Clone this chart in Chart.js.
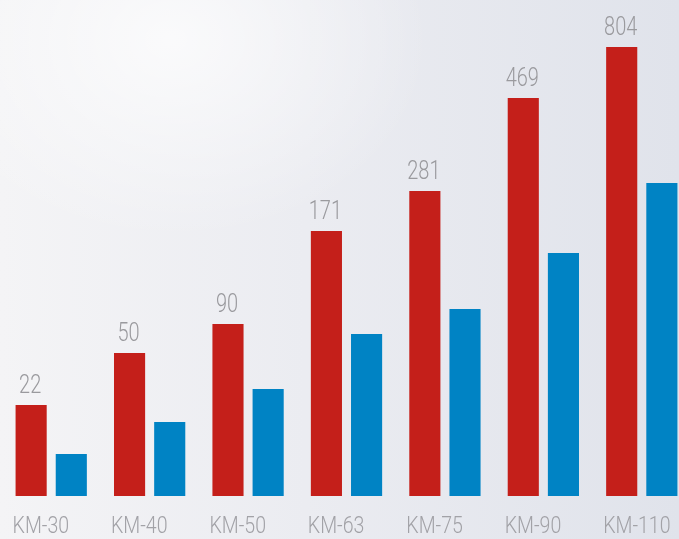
<!doctype html>
<html lang="en">
  <head>
    <meta charset="utf-8">
    <title>KM series</title>
    <style>
      * { margin: 0; padding: 0; }
      html, body { width: 679px; height: 539px; overflow: hidden; }
      body {
        background:
          radial-gradient(ellipse 260px 200px at 170px 40px, rgba(255,255,255,0.7), rgba(255,255,255,0) 100%),
          linear-gradient(to right, #f4f4f6 0%, #ebecf1 45%, #e0e3eb 100%);
      }
      .chartBox { width: 691px; height: 539px; }
    </style>
  </head>
  <body>
    <div class="chartBox">
      <canvas id="myChart"></canvas>
    </div>
    <script src="https://cdn.jsdelivr.net/npm/chart.js/dist/chart.umd.min.js"></script>
    <script>
    // setup
    const categories = ['KM-30', 'KM-40', 'KM-50', 'KM-63', 'KM-75', 'KM-90', 'KM-110'];
    const redValues = [22, 50, 90, 171, 281, 469, 804];      // printed on top of red bars
    const redHeights = [91, 143, 172, 265, 305, 398, 449];   // bar heights as drawn (not to scale with values)
    const blueHeights = [42, 74, 107, 162, 187, 243, 313];

    const data = {
      labels: categories,
      datasets: [{
        label: 'red',
        data: redHeights,
        backgroundColor: '#c41f1a'
      }, {
        label: 'blue',
        data: blueHeights,
        backgroundColor: '#0083c4'
      }]
    };

    // condensed light text: squeeze the normal font horizontally
    function narrowText(ctx, text, x, y, sx) {
      ctx.save();
      ctx.translate(x, y);
      ctx.scale(sx, 1);
      ctx.fillText(text, 0, 0);
      ctx.restore();
    }

    // value labels over the red bars + category labels under each pair
    const barLabels = {
      id: 'barLabels',
      afterDatasetsDraw(chart) {
        const { ctx, chartArea: { bottom } } = chart;
        const meta = chart.getDatasetMeta(0);
        ctx.save();
        ctx.textBaseline = 'alphabetic';

        ctx.font = '300 25px Roboto, sans-serif';
        ctx.fillStyle = '#9a9a9e';
        ctx.textAlign = 'center';
        meta.data.forEach((bar, i) => {
          narrowText(ctx, String(redValues[i]), bar.x - 1, bar.y - 12, 0.8);
        });

        ctx.font = '300 23px Roboto, sans-serif';
        ctx.fillStyle = '#a2a2a7';
        ctx.textAlign = 'left';
        meta.data.forEach((bar, i) => {
          narrowText(ctx, categories[i], bar.x - bar.width / 2 - 3, bottom + 37, 0.85);
        });
        ctx.restore();
      }
    };

    const config = {
      type: 'bar',
      data,
      options: {
        responsive: true,
        maintainAspectRatio: false,
        animation: false,
        categoryPercentage: 0.816,
        barPercentage: 0.775,
        layout: { padding: { left: 2, top: 0, right: 0, bottom: 43 } },
        scales: {
          x: { display: false },
          y: { display: false, min: 0, max: 496 }
        },
        plugins: {
          legend: { display: false },
          tooltip: { enabled: false }
        }
      },
      plugins: [barLabels]
    };

    const myChart = new Chart(document.getElementById('myChart'), config);
    </script>
  </body>
</html>
